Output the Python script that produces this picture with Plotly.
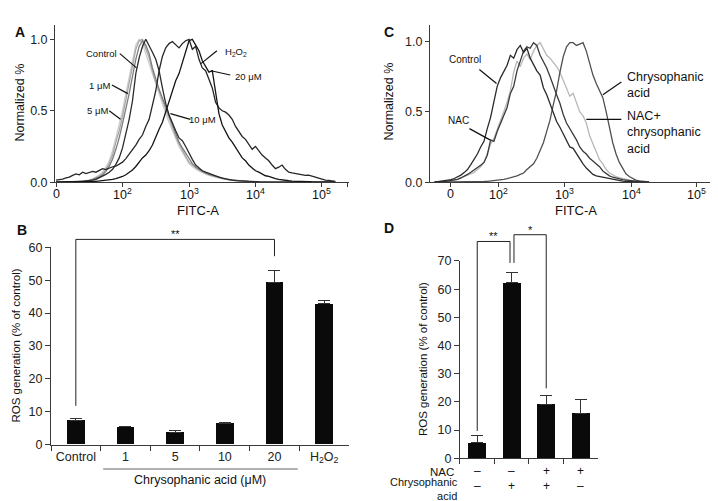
import plotly.graph_objects as go

FONT = "Liberation Sans, Arial, sans-serif"
AXIS = "#3a3a3a"

# ---------- A : FITC-A histograms (x in display decades: 0 -> "0", 1 -> 10^2, 2 -> 10^3 ...)
a_bins = [0.00, 0.05, 0.10, 0.15, 0.20, 0.25, 0.30, 0.35, 0.40, 0.45,
          0.50, 0.55, 0.60, 0.65, 0.70, 0.75, 0.80, 0.85, 0.90, 0.95,
          1.00, 1.05, 1.10, 1.15, 1.20, 1.25, 1.30, 1.35, 1.40, 1.45,
          1.50, 1.55, 1.60, 1.65, 1.70, 1.75, 1.80, 1.85, 1.90, 1.95,
          2.00, 2.05, 2.10, 2.15, 2.20, 2.25, 2.30, 2.35, 2.40, 2.45,
          2.50, 2.55, 2.60, 2.65, 2.70, 2.75, 2.80, 2.85, 2.90, 2.95,
          3.00, 3.05, 3.10, 3.15, 3.20, 3.25, 3.30, 3.35, 3.40, 3.45,
          3.50, 3.55, 3.60, 3.65, 3.70, 3.75, 3.80, 3.85, 3.90, 3.95,
          4.00, 4.05, 4.10, 4.15, 4.20]
a_5um = [0, 0, 0, 0, 0.002, 0.003, 0.004, 0.006, 0.008, 0.010,
         0.015, 0.024, 0.035, 0.050, 0.072, 0.105, 0.150, 0.220, 0.310, 0.400,
         0.500, 0.620, 0.740, 0.860, 0.960, 1.000, 0.970, 0.900, 0.830, 0.750,
         0.680, 0.610, 0.550, 0.480, 0.420, 0.360, 0.300, 0.250, 0.210, 0.170,
         0.130, 0.110, 0.090, 0.078, 0.066, 0.056, 0.048, 0.041, 0.035, 0.030,
         0.024, 0.019, 0.015, 0.012, 0.010, 0.008, 0.006, 0.005, 0.004, 0.003,
         0.002, 0.002, 0.002, 0.001, 0.001, 0.001, 0, 0, 0, 0,
         0, 0, 0, 0, 0, 0, 0, 0, 0, 0,
         0, 0, 0, 0, 0]
a_1um = [0, 0, 0, 0, 0, 0.002, 0.003, 0.005, 0.007, 0.009,
         0.013, 0.020, 0.030, 0.042, 0.060, 0.090, 0.130, 0.190, 0.280, 0.360,
         0.460, 0.570, 0.690, 0.810, 0.930, 0.990, 1.000, 0.930, 0.870, 0.780,
         0.700, 0.640, 0.570, 0.510, 0.450, 0.380, 0.320, 0.270, 0.220, 0.180,
         0.140, 0.120, 0.100, 0.085, 0.072, 0.062, 0.052, 0.045, 0.038, 0.032,
         0.026, 0.021, 0.017, 0.014, 0.011, 0.009, 0.007, 0.006, 0.004, 0.003,
         0.003, 0.002, 0.002, 0.002, 0.001, 0.001, 0.001, 0.001, 0, 0,
         0, 0, 0, 0, 0, 0, 0, 0, 0, 0,
         0, 0, 0, 0, 0]
a_10um = [0, 0, 0, 0, 0, 0.002, 0.003, 0.004, 0.006, 0.008,
          0.012, 0.018, 0.026, 0.036, 0.050, 0.075, 0.110, 0.160, 0.230, 0.310,
          0.410, 0.510, 0.620, 0.740, 0.860, 0.950, 0.990, 0.960, 0.900, 0.800,
          0.720, 0.650, 0.590, 0.530, 0.460, 0.400, 0.340, 0.280, 0.240, 0.200,
          0.160, 0.130, 0.105, 0.090, 0.075, 0.065, 0.055, 0.048, 0.040, 0.034,
          0.028, 0.023, 0.018, 0.015, 0.012, 0.010, 0.008, 0.006, 0.005, 0.004,
          0.003, 0.003, 0.002, 0.002, 0.002, 0.001, 0.001, 0.001, 0.001, 0.001,
          0, 0, 0, 0, 0, 0, 0, 0, 0, 0,
          0, 0, 0, 0, 0]
a_control = [0, 0, 0, 0, 0.002, 0.003, 0.004, 0.005, 0.006, 0.008,
             0.010, 0.014, 0.020, 0.030, 0.042, 0.055, 0.070, 0.090, 0.125, 0.170,
             0.240, 0.330, 0.440, 0.570, 0.760, 0.870, 0.950, 1.000, 0.960, 0.910,
             0.860, 0.780, 0.660, 0.550, 0.470, 0.410, 0.360, 0.310, 0.290, 0.250,
             0.200, 0.160, 0.120, 0.100, 0.080, 0.070, 0.060, 0.050, 0.042, 0.035,
             0.028, 0.022, 0.018, 0.014, 0.011, 0.009, 0.007, 0.006, 0.005, 0.004,
             0.004, 0.003, 0.003, 0.002, 0.002, 0.002, 0.001, 0.001, 0.001, 0.001,
             0, 0, 0, 0, 0, 0, 0, 0, 0, 0,
             0, 0, 0, 0, 0]
a_h2o2 = [0.015, 0.018, 0.022, 0.030, 0.035, 0.048, 0.058, 0.052, 0.070, 0.060,
          0.068, 0.075, 0.070, 0.085, 0.095, 0.088, 0.100, 0.108, 0.112, 0.125,
          0.140, 0.165, 0.195, 0.225, 0.260, 0.300, 0.330, 0.390, 0.440, 0.540,
          0.640, 0.780, 0.880, 0.940, 0.970, 0.985, 0.960, 0.940, 0.970, 0.990,
          1.000, 0.930, 0.950, 0.860, 0.800, 0.780, 0.720, 0.660, 0.560, 0.520,
          0.500, 0.490, 0.470, 0.440, 0.390, 0.350, 0.320, 0.300, 0.260, 0.230,
          0.250, 0.220, 0.190, 0.170, 0.150, 0.120, 0.095, 0.105, 0.120, 0.090,
          0.070, 0.065, 0.060, 0.055, 0.050, 0.048, 0.050, 0.045, 0.035, 0.028,
          0.020, 0.015, 0.012, 0.009, 0.006]
a_20um = [0, 0, 0, 0, 0, 0, 0, 0, 0.002, 0.003,
          0.004, 0.005, 0.006, 0.008, 0.010, 0.012, 0.015, 0.020, 0.025, 0.032,
          0.040, 0.052, 0.068, 0.085, 0.110, 0.140, 0.170, 0.190, 0.220, 0.260,
          0.320, 0.370, 0.420, 0.490, 0.560, 0.640, 0.710, 0.760, 0.840, 0.920,
          0.990, 1.000, 0.960, 0.920, 0.850, 0.810, 0.770, 0.780, 0.630, 0.480,
          0.400, 0.350, 0.310, 0.280, 0.240, 0.200, 0.170, 0.150, 0.120, 0.100,
          0.080, 0.070, 0.055, 0.045, 0.040, 0.030, 0.025, 0.020, 0.015, 0.012,
          0.010, 0.008, 0.006, 0.005, 0.004, 0.003, 0.003, 0.002, 0.002, 0.001,
          0.001, 0.001, 0, 0, 0]
a_ticks = [0, 1, 2, 3, 4, 4.39]
c_ticks = [0, 0.727, 1.727, 2.727, 3.712, 4.14]
fitc_text = ["0", "10<sup>2</sup>", "10<sup>3</sup>", "10<sup>4</sup>", "10<sup>5</sup>"]

# ---------- C : FITC-A histograms, NAC pretreatment
c_bins = [-0.25, -0.20, -0.15, -0.10, -0.05,
          0.00, 0.05, 0.10, 0.15, 0.20, 0.25, 0.30, 0.35, 0.40, 0.45,
          0.50, 0.55, 0.60, 0.65, 0.70, 0.75, 0.80, 0.85, 0.90, 0.95,
          1.00, 1.05, 1.10, 1.15, 1.20, 1.25, 1.30, 1.35, 1.40, 1.45,
          1.50, 1.55, 1.60, 1.65, 1.70, 1.75, 1.80, 1.85, 1.90, 1.95,
          2.00, 2.05, 2.10, 2.15, 2.20, 2.25, 2.30, 2.35, 2.40, 2.45,
          2.50, 2.55, 2.60, 2.65, 2.70, 2.75, 2.80, 2.85, 2.90, 2.95,
          3.00]
c_control = [0, 0.003, 0.006, 0.010, 0.014,
             0.018, 0.026, 0.038, 0.050, 0.068, 0.090, 0.125, 0.160, 0.200, 0.250,
             0.290, 0.380, 0.460, 0.570, 0.680, 0.740, 0.780, 0.830, 0.900, 0.880,
             0.940, 0.970, 0.920, 0.950, 0.880, 0.830, 0.790, 0.760, 0.670, 0.620,
             0.560, 0.490, 0.430, 0.390, 0.340, 0.290, 0.250, 0.240, 0.200, 0.160,
             0.130, 0.100, 0.080, 0.055, 0.045, 0.040, 0.035, 0.030, 0.025, 0.020,
             0.016, 0.012, 0.008, 0.006, 0.004, 0.003, 0.002, 0.001, 0, 0,
             0]
c_nac = [0, 0, 0.003, 0.005, 0.008,
         0.012, 0.016, 0.020, 0.030, 0.040, 0.055, 0.070, 0.085, 0.100, 0.120,
         0.140, 0.190, 0.300, 0.290, 0.360, 0.420, 0.470, 0.530, 0.630, 0.680,
         0.790, 0.860, 0.930, 0.960, 0.950, 0.990, 0.970, 0.900, 0.860, 0.810,
         0.750, 0.680, 0.620, 0.560, 0.480, 0.420, 0.380, 0.350, 0.300, 0.250,
         0.220, 0.200, 0.170, 0.150, 0.130, 0.110, 0.080, 0.060, 0.045, 0.035,
         0.028, 0.022, 0.018, 0.015, 0.012, 0.008, 0.005, 0.003, 0.001, 0,
         0]
c_nac_ca = [0, 0, 0.002, 0.004, 0.006,
            0.010, 0.014, 0.020, 0.030, 0.040, 0.050, 0.060, 0.070, 0.090, 0.110,
            0.140, 0.200, 0.270, 0.310, 0.370, 0.440, 0.500, 0.570, 0.650, 0.780,
            0.860, 0.820, 0.880, 0.910, 0.870, 0.930, 0.970, 0.990, 0.950, 0.900,
            0.880, 0.850, 0.820, 0.780, 0.720, 0.660, 0.610, 0.630, 0.560, 0.500,
            0.470, 0.420, 0.330, 0.270, 0.210, 0.160, 0.130, 0.090, 0.065, 0.050,
            0.040, 0.032, 0.025, 0.019, 0.015, 0.011, 0.008, 0.005, 0.003, 0.001,
            0]
c_ca = [0, 0, 0, 0, 0,
        0, 0, 0, 0, 0, 0, 0, 0.002, 0.003, 0.004,
        0.005, 0.006, 0.008, 0.010, 0.012, 0.016, 0.020, 0.025, 0.030, 0.035,
        0.045, 0.055, 0.065, 0.090, 0.110, 0.130, 0.170, 0.220, 0.280, 0.360,
        0.440, 0.550, 0.650, 0.780, 0.890, 0.960, 0.990, 0.990, 0.970, 0.980,
        0.990, 0.930, 0.850, 0.760, 0.700, 0.650, 0.600, 0.500, 0.380, 0.280,
        0.200, 0.140, 0.100, 0.060, 0.040, 0.025, 0.015, 0.010, 0.006, 0.004,
        0.002]

# ---------- B : ROS generation, dose response
b_groups = ["Control", "1", "5", "10", "20", "H<sub>2</sub>O<sub>2</sub>"]
b_ros = [7.3, 5.4, 3.8, 6.4, 49.4, 42.8]
b_err = [0.6, 0.2, 0.5, 0.2, 3.6, 1.1]

# ---------- D : ROS generation with NAC
d_groups = ["none", "CA", "NAC+CA", "NAC"]
d_nac = ["–", "–", "+", "+"]
d_ca = ["–", "+", "+", "–"]
d_ros = [5.5, 62.3, 19.1, 16.0]
d_err = [2.4, 3.7, 3.0, 4.8]

# panel geometry
dom = {
    "a": ([0.0655, 0.4749], [0.6567, 0.9800]),
    "b": ([0.0599, 0.4749], [0.1178, 0.5230]),
    "c": ([0.5877, 0.9986], [0.6567, 0.9800]),
    "d": ([0.6295, 0.8217], [0.0898, 0.4950]),
}
rng = {
    "a": ([-0.015, 4.406], [0, 1.102]),
    "b": ([-0.5, 5.5], [0, 60]),
    "c": ([-0.318, 4.15], [0, 1.117]),
    "d": ([-0.5, 3.5], [0, 70]),
}

fig = go.Figure()

a_series = [(a_5um, "#cdcdcd"), (a_1um, "#a8a8a8"), (a_10um, "#7c7c7c"),
            (a_control, "#2a2a2a"), (a_h2o2, "#262626"), (a_20um, "#141414")]
for ys, col in a_series:
    fig.add_trace(go.Scatter(x=a_bins, y=ys, mode="lines", line=dict(color=col, width=1.3),
                             xaxis="x", yaxis="y", hoverinfo="skip"))

c_series = [(c_nac_ca, "#b8b8b8"), (c_ca, "#505050"), (c_nac, "#3a3a3a"), (c_control, "#2a2a2a")]
for ys, col in c_series:
    fig.add_trace(go.Scatter(x=c_bins, y=ys, mode="lines", line=dict(color=col, width=1.3),
                             xaxis="x3", yaxis="y3", hoverinfo="skip"))

fig.add_trace(go.Bar(x=b_groups, y=b_ros, width=0.36, marker=dict(color="#0a0a0a", line=dict(width=0)),
                     error_y=dict(type="data", array=b_err, arrayminus=[0] * len(b_err), symmetric=False,
                                  color="#333", thickness=1, width=6),
                     xaxis="x2", yaxis="y2"))
fig.add_trace(go.Bar(x=d_groups, y=d_ros, width=0.52, marker=dict(color="#0a0a0a", line=dict(width=0)),
                     error_y=dict(type="data", array=d_err, arrayminus=[0] * len(d_err), symmetric=False,
                                  color="#333", thickness=1, width=6),
                     xaxis="x4", yaxis="y4"))

tickfont = dict(family=FONT, size=12.5, color="#222")
base = dict(showline=True, linecolor=AXIS, linewidth=1, ticks="outside", ticklen=4, tickwidth=1,
            tickcolor=AXIS, showgrid=False, zeroline=False, tickfont=tickfont, fixedrange=True)

fig.update_layout(
    width=718, height=501, margin=dict(l=0, r=0, t=0, b=0),
    paper_bgcolor="white", plot_bgcolor="white", showlegend=False, bargap=0,
    font=dict(family=FONT, color="#222"),
    xaxis=dict(base, domain=dom["a"][0], range=rng["a"][0], anchor="y",
               tickmode="array", tickvals=a_ticks, showticklabels=False),
    yaxis=dict(base, domain=dom["a"][1], range=rng["a"][1], anchor="x",
               tickmode="array", tickvals=[0, 0.5, 1.0], ticktext=["0.0", "0.5", "1.0"]),
    xaxis3=dict(base, domain=dom["c"][0], range=rng["c"][0], anchor="y3",
                tickmode="array", tickvals=c_ticks, showticklabels=False),
    yaxis3=dict(base, domain=dom["c"][1], range=rng["c"][1], anchor="x3",
                tickmode="array", tickvals=[0, 0.5, 1.0], ticktext=["0.0", "0.5", "1.0"]),
    xaxis2=dict(base, type="category", domain=dom["b"][0], range=rng["b"][0], anchor="y2",
                tickson="boundaries", ticklen=5),
    yaxis2=dict(base, domain=dom["b"][1], range=rng["b"][1], anchor="x2", dtick=10, ticklen=5),
    xaxis4=dict(base, type="category", domain=dom["d"][0], range=rng["d"][0], anchor="y4",
                tickson="boundaries", ticklen=5, showticklabels=False),
    yaxis4=dict(base, domain=dom["d"][1], range=rng["d"][1], anchor="x4", dtick=10, ticklen=5),
)

shapes = []
ann = []


def pointer(xr, yr, x0, y0, x1, y1):
    shapes.append(dict(type="line", xref=xr, yref=yr, x0=x0, y0=y0, x1=x1, y1=y1,
                       line=dict(color="#111", width=1.2)))


def label(xr, yr, x, y, text, size, xanchor="center", yanchor="middle", **kw):
    ann.append(dict(xref=xr, yref=yr, x=x, y=y, text=text, showarrow=False, xanchor=xanchor,
                    yanchor=yanchor, font=dict(family=FONT, size=size, color="#111"), **kw))


def bracket(panel, xa, x0, x1, y0, ytop, y1, stars):
    (xr0, xr1), (yr0, yr1) = rng[panel]
    fx = lambda v: (v - xr0) / (xr1 - xr0)
    fy = lambda v: (v - yr0) / (yr1 - yr0)
    pts = [(x0, y0), (x0, ytop), (x1, ytop), (x1, y1)]
    for (xa0, ya0), (xa1, ya1) in zip(pts, pts[1:]):
        shapes.append(dict(type="line", xref=xa + " domain", yref="y" + xa[1:] + " domain",
                           x0=fx(xa0), y0=fy(ya0), x1=fx(xa1), y1=fy(ya1),
                           line=dict(color="#222", width=1)))
    label(xa + " domain", "y" + xa[1:] + " domain", fx((x0 + x1) / 2), fy(ytop), stars, 11,
          yanchor="bottom", yshift=-3)


# FITC-A tick labels (log display), drawn as text so they sit close to the axis
for xref, ticks in [("x", a_ticks), ("x3", c_ticks)]:
    for tv, tt in zip(ticks, fitc_text):
        label(xref, "paper", tv, 1 - 184 / 501, tt, 12.5)

# panel A labels
for text, tx, ty, p0, p1 in [
    ("Control", 0.69, 0.90, (0.96, 0.90), (1.21, 0.80)),
    ("1 μM", 0.66, 0.68, (0.84, 0.68), (1.08, 0.62)),
    ("5 μM", 0.63, 0.50, (0.80, 0.50), (0.97, 0.44)),
    ("10 μM", 2.21, 0.44, (1.72, 0.48), (2.02, 0.44)),
    ("H<sub>2</sub>O<sub>2</sub>", 2.71, 0.91, (2.18, 0.83), (2.42, 0.92)),
    ("20 μM", 2.89, 0.74, (2.33, 0.78), (2.62, 0.75)),
]:
    label("x", "y", tx, ty, text, 9.5)
    pointer("x", "y", p0[0], p0[1], p1[0], p1[1])

# panel C labels
label("x3", "y3", 0.21, 0.87, "Control", 10)
pointer("x3", "y3", 0.43, 0.80, 0.69, 0.70)
label("x3", "y3", 0.11, 0.44, "NAC", 10)
pointer("x3", "y3", 0.28, 0.38, 0.59, 0.30)
label("x3", "y3", 2.64, 0.69, "Chrysophanic<br>acid", 12.5, xanchor="left", align="left")
pointer("x3", "y3", 2.30, 0.62, 2.58, 0.71)
label("x3", "y3", 2.64, 0.35, "NAC+<br>chrysophanic<br>acid", 12.5, xanchor="left", align="left")
pointer("x3", "y3", 2.05, 0.446, 2.58, 0.446)

# axis titles
label("paper", "paper", 190 / 718, 1 - 201 / 501, "FITC-A", 13)
label("paper", "paper", 568 / 718, 1 - 201 / 501, "FITC-A", 13)
label("paper", "paper", 12 / 718, 1 - 90 / 501, "Normalized %", 12.5, textangle=-90)
label("paper", "paper", 381 / 718, 1 - 89 / 501, "Normalized %", 12.5, textangle=-90)
label("paper", "paper", 8 / 718, 1 - 340 / 501, "ROS generation (% of control)", 11.5, textangle=-90)
label("paper", "paper", 415 / 718, 1 - 354 / 501, "ROS generation (% of control)", 11.5, textangle=-90)

# panel B extras
(bx0, bx1), _ = rng["b"]
shapes.append(dict(type="line", xref="x2 domain", yref="paper",
                   x0=(0.55 - bx0) / (bx1 - bx0), x1=(4.47 - bx0) / (bx1 - bx0),
                   y0=1 - 467 / 501, y1=1 - 467 / 501, line=dict(color="#999", width=1.5)))
label("x2", "paper", 2.5, 1 - 478 / 501, "Chrysophanic acid (μM)", 12.5)
bracket("b", "x2", 0, 4, 11.8, 62.4, 57.3, "**")

# panel D extras
bracket("d", "x4", 0, 0.95, 9.7, 76.9, 69.3, "**")
bracket("d", "x4", 1.065, 2, 69.3, 79.3, 24.8, "*")
label("paper", "paper", 448 / 718, 1 - 470 / 501, "NAC", 11.5, xanchor="right")
label("paper", "paper", 452 / 718, 1 - 488 / 501, "Chrysophanic<br>acid", 11,
      xanchor="right", align="right")
for i, (n, c) in enumerate(zip(d_nac, d_ca)):
    label("x4", "paper", i, 1 - 469 / 501, n, 12)
    label("x4", "paper", i, 1 - 485 / 501, c, 12)

# panel letters
for letter, px, py in [("A", 5, 7), ("B", 7, 221), ("C", 381, 7), ("D", 381, 219)]:
    ann.append(dict(xref="paper", yref="paper", x=px / 718, y=1 - py / 501, text="<b>%s</b>" % letter,
                    showarrow=False, font=dict(family=FONT, size=14, color="#111")))

fig.update_layout(shapes=shapes, annotations=ann)
fig.write_html("out.html")
